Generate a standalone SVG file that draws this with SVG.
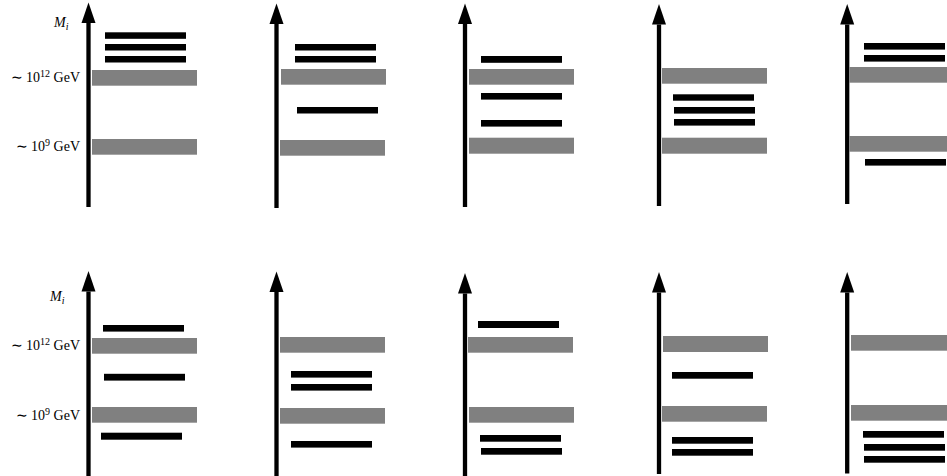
<svg xmlns="http://www.w3.org/2000/svg" width="947" height="476" viewBox="0 0 947 476">
<style>
.g{fill:#808080}
.b{fill:#000}
.ax{stroke:#000;stroke-width:4.3;fill:none;marker-end:url(#ah)}
.lab{font-family:"Liberation Serif","Times New Roman",serif;font-size:14px;fill:#000}
.sup{font-size:10px}
.sub{font-size:10px}
</style>
<defs>
<marker id="ah" markerUnits="userSpaceOnUse" markerWidth="21" markerHeight="15" refX="0" refY="7" orient="auto" overflow="visible">
<path d="M0,0 L20.5,7 L0,14 z" fill="#000"/>
</marker>
</defs>
<rect width="947" height="476" fill="#fff"/>
<g id="connectors">
<line class="ax" x1="88.5" y1="207" x2="88.5" y2="23"/>
<line class="ax" x1="276.5" y1="208" x2="276.5" y2="24"/>
<line class="ax" x1="465" y1="207" x2="465" y2="24"/>
<line class="ax" x1="659" y1="206" x2="659" y2="24.5"/>
<line class="ax" x1="847.2" y1="204" x2="847.2" y2="24.5"/>
<line class="ax" x1="88.5" y1="476" x2="88.5" y2="291.5"/>
<line class="ax" x1="276.5" y1="476" x2="276.5" y2="292"/>
<line class="ax" x1="465" y1="476" x2="465" y2="293.5"/>
<line class="ax" x1="659" y1="474" x2="659" y2="292.5"/>
<line class="ax" x1="847.2" y1="473.5" x2="847.2" y2="292.5"/>
</g>
<g id="labels-top">
<text class="lab" x="54" y="27" font-style="italic">M<tspan class="sub" dy="3">i</tspan></text>
<text class="lab" x="80" y="82" text-anchor="end">∼ 10<tspan class="sup" dy="-5.5">12</tspan><tspan dy="5.5"> GeV</tspan></text>
<text class="lab" x="80" y="151" text-anchor="end">∼ 10<tspan class="sup" dy="-5.5">9</tspan><tspan dy="5.5"> GeV</tspan></text>
</g>
<g id="labels-bottom">
<text class="lab" x="50" y="301" font-style="italic">M<tspan class="sub" dy="3">i</tspan></text>
<text class="lab" x="80" y="350" text-anchor="end">∼ 10<tspan class="sup" dy="-5.5">12</tspan><tspan dy="5.5"> GeV</tspan></text>
<text class="lab" x="80" y="420" text-anchor="end">∼ 10<tspan class="sup" dy="-5.5">9</tspan><tspan dy="5.5"> GeV</tspan></text>
</g>
<g id="panel-1">
<rect class="b" x="105" y="32.3" width="81" height="6.5"/>
<rect class="b" x="105" y="44" width="81" height="6.5"/>
<rect class="b" x="105" y="56" width="81" height="6.5"/>
<rect class="g" x="92" y="70" width="105" height="15.7"/>
<rect class="g" x="92" y="139" width="105" height="15.7"/>
</g>
<g id="panel-2">
<rect class="b" x="295" y="44" width="81" height="6.5"/>
<rect class="b" x="295" y="56" width="81" height="6.5"/>
<rect class="g" x="281" y="69" width="105" height="15.7"/>
<rect class="b" x="297" y="107" width="81" height="6.5"/>
<rect class="g" x="280" y="140" width="105" height="15.7"/>
</g>
<g id="panel-3">
<rect class="b" x="481" y="56" width="81" height="6.8"/>
<rect class="g" x="469" y="69" width="105" height="15.7"/>
<rect class="b" x="481" y="93" width="81" height="6.6"/>
<rect class="b" x="481" y="120" width="81" height="6.6"/>
<rect class="g" x="469" y="137.7" width="105" height="16"/>
</g>
<g id="panel-4">
<rect class="g" x="662" y="68" width="105" height="15.7"/>
<rect class="b" x="673" y="94.3" width="81" height="6.4"/>
<rect class="b" x="674" y="107" width="81" height="6.6"/>
<rect class="b" x="674" y="119" width="81" height="6.6"/>
<rect class="g" x="662" y="137.7" width="105" height="16"/>
</g>
<g id="panel-5">
<rect class="b" x="864" y="43" width="81" height="6.6"/>
<rect class="b" x="864" y="55" width="81" height="6.6"/>
<rect class="g" x="849.3" y="67" width="98" height="15.7"/>
<rect class="g" x="849.3" y="136" width="98" height="15.7"/>
<rect class="b" x="865" y="159" width="81" height="6.6"/>
</g>
<g id="panel-6">
<rect class="b" x="103" y="325" width="81" height="6.6"/>
<rect class="g" x="92" y="338" width="105" height="15.7"/>
<rect class="b" x="104" y="373.8" width="81" height="6.8"/>
<rect class="g" x="92" y="407" width="105" height="15.7"/>
<rect class="b" x="101" y="432.7" width="81" height="7"/>
</g>
<g id="panel-7">
<rect class="g" x="280" y="337" width="105" height="15.7"/>
<rect class="b" x="291" y="371" width="81" height="6.6"/>
<rect class="b" x="291" y="384" width="81" height="6.6"/>
<rect class="g" x="280" y="408" width="105" height="15.7"/>
<rect class="b" x="291" y="441" width="81" height="6.6"/>
</g>
<g id="panel-8">
<rect class="b" x="478" y="321" width="81" height="7"/>
<rect class="g" x="468" y="337" width="105" height="15.7"/>
<rect class="g" x="469" y="407" width="105" height="15.7"/>
<rect class="b" x="480" y="435" width="81" height="6.7"/>
<rect class="b" x="481" y="448" width="81" height="6.7"/>
</g>
<g id="panel-9">
<rect class="g" x="663" y="336" width="105" height="16"/>
<rect class="b" x="672" y="372" width="81" height="6.7"/>
<rect class="g" x="662" y="406" width="105" height="15.7"/>
<rect class="b" x="672" y="437" width="81" height="6.7"/>
<rect class="b" x="672" y="449" width="81" height="6.7"/>
</g>
<g id="panel-10">
<rect class="g" x="851" y="335" width="96" height="15.7"/>
<rect class="g" x="851" y="405" width="96" height="15.7"/>
<rect class="b" x="863" y="431" width="81" height="6.7"/>
<rect class="b" x="864" y="444" width="81" height="6.7"/>
<rect class="b" x="864" y="456" width="81" height="6.7"/>
</g>
</svg>
